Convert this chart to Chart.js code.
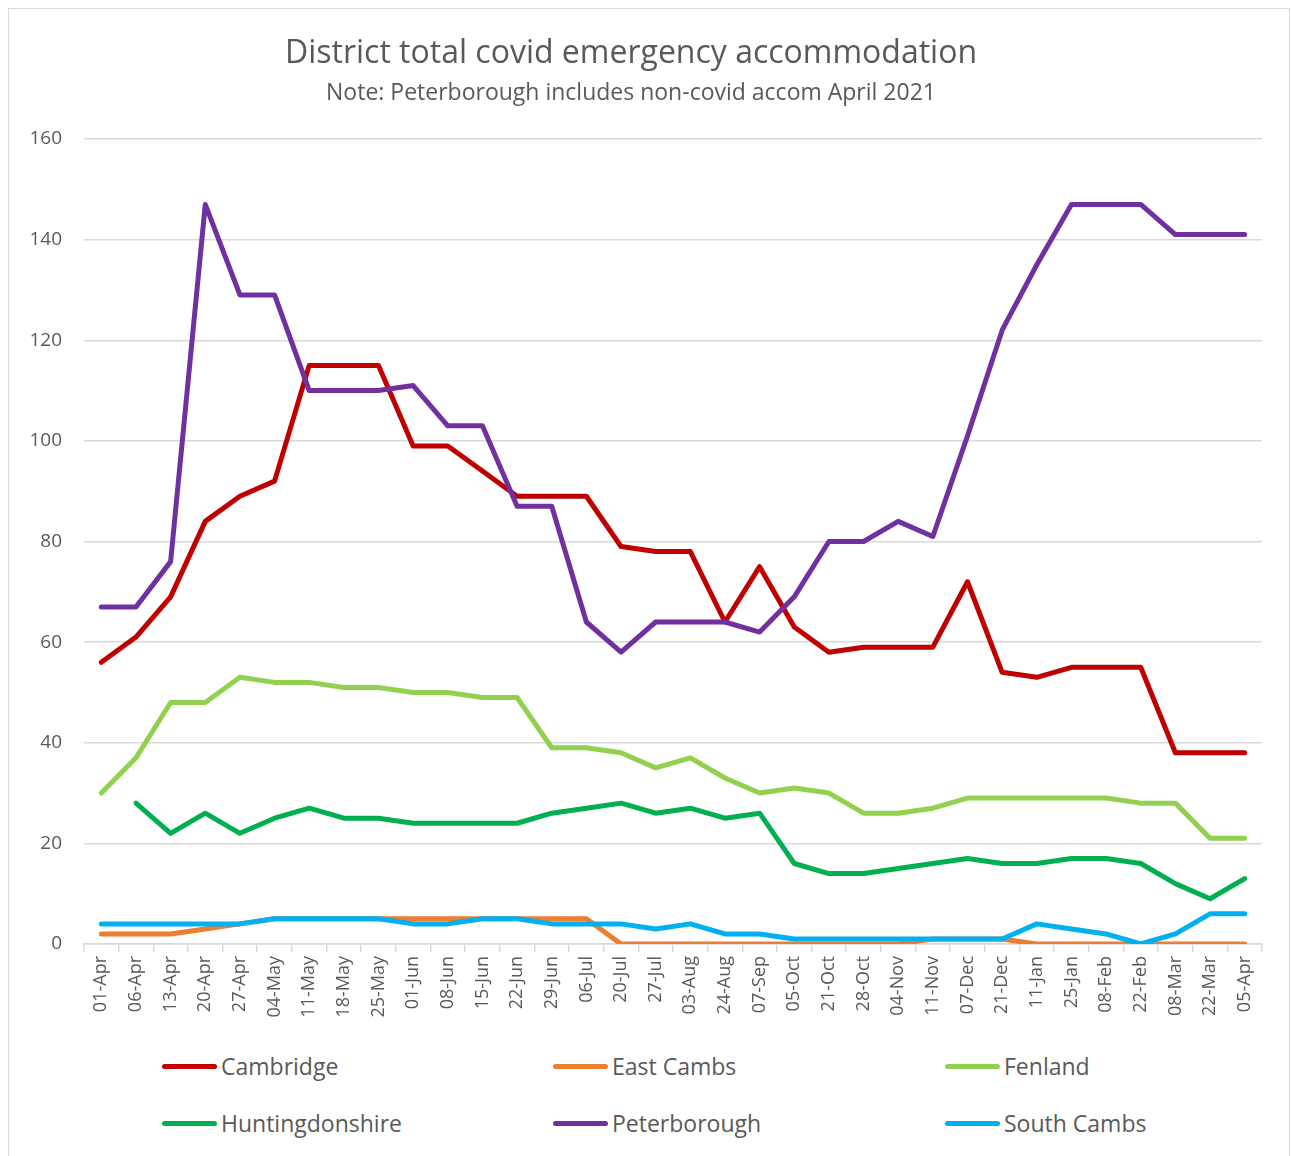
<!DOCTYPE html>
<html>
<head>
<meta charset="utf-8">
<script src="https://cdn.jsdelivr.net/npm/chart.js@4/dist/chart.umd.min.js"></script>
<style>
  body { margin: 0; background: #fff; font-family: "Open Sans", sans-serif; }
  #frame { position: absolute; left: 8px; top: 8px; width: 1282px; height: 1150px; border: 1px solid #d9d9d9; box-sizing: border-box; }
  #wrap { position: absolute; left: 0; top: 0; width: 1291px; height: 1040px; }
  #legend { position: absolute; left: 0; top: 1040px; width: 1291px; }
  .item { position: absolute; display: flex; align-items: center; font-size: 23px; color: #595959; }
  .item span.swatch { display: inline-block; width: 55px; height: 5px; border-radius: 3px; margin-right: 4px; }
</style>
</head>
<body>
<div id="frame"></div>
<div id="wrap"><canvas id="graph"></canvas></div>
<div id="legend"></div>
<script>
const weeks = ['01-Apr','06-Apr','13-Apr','20-Apr','27-Apr','04-May','11-May','18-May','25-May','01-Jun','08-Jun','15-Jun','22-Jun','29-Jun','06-Jul','20-Jul','27-Jul','03-Aug','24-Aug','07-Sep','05-Oct','21-Oct','28-Oct','04-Nov','11-Nov','07-Dec','21-Dec','11-Jan','25-Jan','08-Feb','22-Feb','08-Mar','22-Mar','05-Apr'];

const cambridge = [56,61,69,84,89,92,115,115,115,99,99,94,89,89,89,79,78,78,64,75,63,58,59,59,59,72,54,53,55,55,55,38,38,38];
const eastCambs = [2,2,2,3,4,5,5,5,5,5,5,5,5,5,5,0,0,0,0,0,0,0,0,0,1,1,1,0,0,0,0,0,0,0];
const fenland = [30,37,48,48,53,52,52,51,51,50,50,49,49,39,39,38,35,37,33,30,31,30,26,26,27,29,29,29,29,29,28,28,21,21];
const huntingdonshire = [null,28,22,26,22,25,27,25,25,24,24,24,24,26,27,28,26,27,25,26,16,14,14,15,16,17,16,16,17,17,16,12,9,13];
const peterborough = [67,67,76,147,129,129,110,110,110,111,103,103,87,87,64,58,64,64,64,62,69,80,80,84,81,101,122,135,147,147,147,141,141,141];
const southCambs = [4,4,4,4,4,5,5,5,5,4,4,5,5,4,4,4,3,4,2,2,1,1,1,1,1,1,1,4,3,2,0,2,6,6];

const seriesNames = ['Cambridge','East Cambs','Fenland','Huntingdonshire','Peterborough','South Cambs'];
const seriesColors = ['#C00000','#ED7D31','#92D050','#00B050','#7030A0','#00B0F0'];
const seriesValues = [cambridge, eastCambs, fenland, huntingdonshire, peterborough, southCambs];

// later series are drawn on top, as in the original
const data = {
    labels: weeks,
    datasets: seriesNames.map((name, i) => ({
        label: name,
        data: seriesValues[i],
        borderColor: seriesColors[i],
        backgroundColor: seriesColors[i],
        borderWidth: 5,
        pointRadius: 0,
        tension: 0,
        borderCapStyle: 'round',
        borderJoinStyle: 'round',
        spanGaps: false,
        order: seriesNames.length - i
    }))
};

const textColor = '#595959';
const gridColor = '#d9d9d9';

const config = {
    type: 'line',
    data: data,
    options: {
        responsive: true,
        maintainAspectRatio: false,
        animation: false,
        layout: { padding: { left: 0, right: 29, top: 0, bottom: 0 } },
        plugins: {
            legend: { display: false },
            tooltip: { enabled: false },
            title: {
                display: true,
                text: 'District total covid emergency accommodation',
                color: textColor,
                font: { family: 'Open Sans', size: 32, weight: 'normal', lineHeight: 1.2 },
                padding: { top: 35, bottom: 0 }
            },
            subtitle: {
                display: true,
                text: 'Note: Peterborough includes non-covid accom April 2021',
                color: textColor,
                font: { family: 'Open Sans', size: 23, weight: 'normal', lineHeight: 1.2 },
                padding: { top: 6, bottom: 32 }
            }
        },
        scales: {
            x: {
                offset: true,
                grid: { display: true, drawOnChartArea: false, drawTicks: true, tickLength: 8, offset: true, color: gridColor, lineWidth: 1.5 },
                border: { display: true, color: gridColor, width: 1.5 },
                ticks: {
                    color: textColor,
                    font: { family: 'Open Sans', size: 18 },
                    maxRotation: 90,
                    minRotation: 90,
                    autoSkip: false,
                    padding: 4
                },
                afterFit: (scale) => { scale.height = 96; }
            },
            y: {
                min: 0,
                max: 160,
                ticks: {
                    stepSize: 20,
                    color: textColor,
                    font: { family: 'Open Sans', size: 19 },
                    padding: 22
                },
                grid: { color: gridColor, lineWidth: 1.5, drawTicks: false },
                border: { display: false },
                afterFit: (scale) => { scale.width = 84; }
            }
        }
    }
};

const graph = document.querySelector('#graph');
new Chart(graph, config);

// legend: 3 columns x 2 rows, like the original
const legend = document.querySelector('#legend');
const colX = [162, 553, 945];
const rowY = [26, 83];
seriesNames.forEach((name, i) => {
    const el = document.createElement('div');
    el.className = 'item';
    el.style.left = colX[i % 3] + 'px';
    el.style.top = (rowY[Math.floor(i / 3)] - 15) + 'px';
    el.style.height = '30px';
    el.innerHTML = '<span class="swatch" style="background:' + seriesColors[i] + '"></span>' + name;
    legend.appendChild(el);
});
</script>
</body>
</html>
